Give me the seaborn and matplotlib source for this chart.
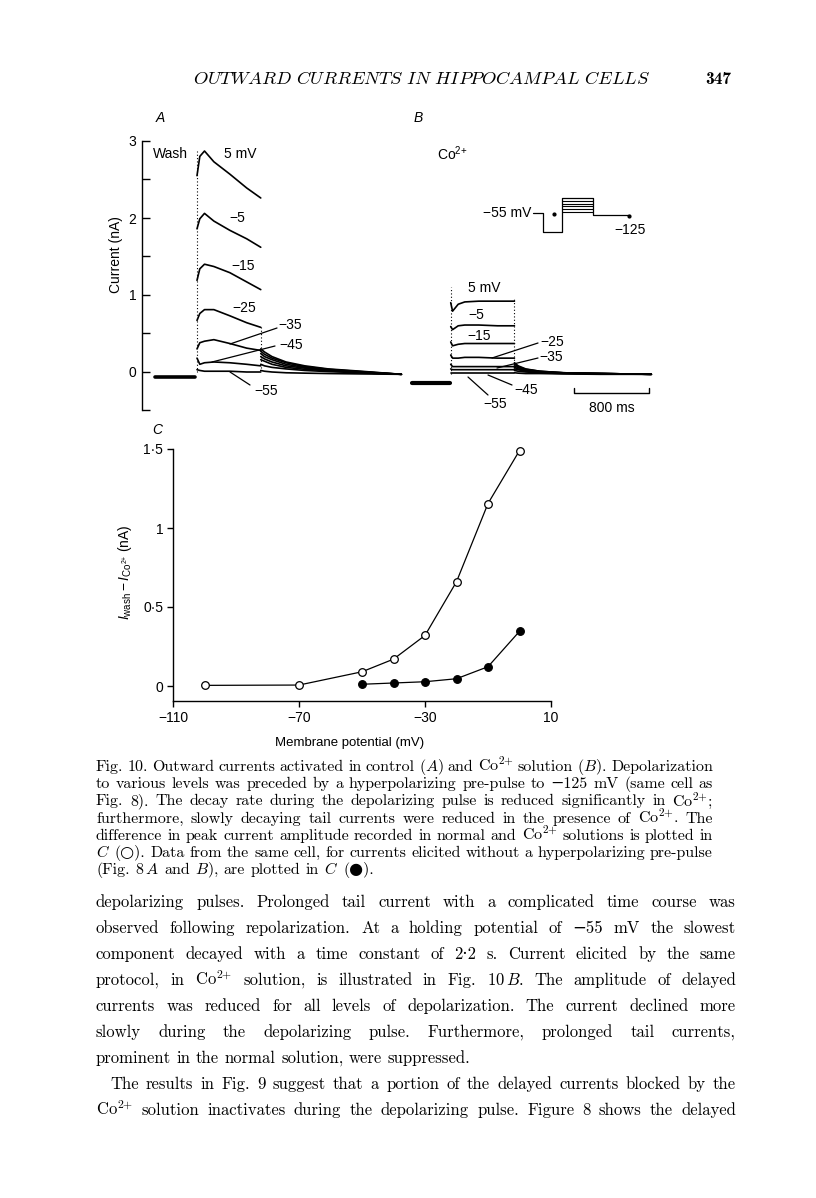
import numpy as np
import pandas as pd
import matplotlib
matplotlib.use("Agg")
import matplotlib.pyplot as plt
import seaborn as sns
from matplotlib.lines import Line2D
from matplotlib.ticker import FixedLocator, FixedFormatter, NullFormatter

# ---------------- data ----------------
# Panel A (wash): pulse traces, time in ms, current in nA
a_levels = ["5 mV", "-5", "-15", "-25", "-35", "-45", "-55"]
a_pulse_t = [0, 30, 80, 180, 350, 530, 680]
a_p5 = [2.55, 2.80, 2.87, 2.73, 2.57, 2.39, 2.26]
a_m5 = [1.86, 1.99, 2.06, 1.96, 1.84, 1.73, 1.62]
a_m15 = [1.19, 1.34, 1.40, 1.37, 1.29, 1.17, 1.07]
a_m25 = [0.67, 0.76, 0.81, 0.81, 0.73, 0.64, 0.58]
a_m35 = [0.30, 0.38, 0.40, 0.42, 0.37, 0.31, 0.28]
a_m45 = [0.18, 0.10, 0.12, 0.13, 0.12, 0.10, 0.08]
a_m55 = [0.03, 0.02, 0.01, 0.01, 0.01, 0.00, 0.00]
a_tail_t = [680, 720, 800, 950, 1150, 1400, 1750, 2180]
a_tail_p5 = [0.30, 0.26, 0.20, 0.13, 0.08, 0.04, 0.01, -0.03]
a_tail_m5 = [0.27, 0.23, 0.18, 0.12, 0.07, 0.035, 0.005, -0.03]
a_tail_m15 = [0.24, 0.20, 0.16, 0.10, 0.06, 0.03, 0.0, -0.03]
a_tail_m25 = [0.20, 0.17, 0.13, 0.08, 0.05, 0.02, 0.0, -0.03]
a_tail_m35 = [0.16, 0.14, 0.10, 0.06, 0.035, 0.015, -0.01, -0.03]
a_tail_m45 = [0.10, 0.08, 0.06, 0.04, 0.02, 0.005, -0.01, -0.03]
a_tail_m55 = [0.02, 0.01, 0.0, -0.01, -0.015, -0.02, -0.025, -0.03]
a_pre_t = [-450, -20]
a_pre_i = [-0.065, -0.065]

# Panel B (Co2+)
b_pulse_t = [0, 20, 80, 150, 300, 500, 680]
b_p5 = [0.90, 0.79, 0.88, 0.91, 0.92, 0.92, 0.92]
b_m5 = [0.59, 0.55, 0.60, 0.61, 0.61, 0.60, 0.60]
b_m15 = [0.39, 0.34, 0.36, 0.37, 0.37, 0.37, 0.37]
b_m25 = [0.22, 0.18, 0.18, 0.19, 0.19, 0.18, 0.18]
b_m35 = [0.10, 0.07, 0.07, 0.07, 0.07, 0.07, 0.07]
b_m45 = [0.04, 0.03, 0.03, 0.03, 0.03, 0.03, 0.03]
b_m55 = [-0.01, -0.01, -0.01, -0.01, -0.01, -0.01, -0.01]
b_tail_t = [680, 720, 800, 950, 1200, 1600, 2140]
b_tail_p5 = [0.12, 0.08, 0.04, 0.01, -0.01, -0.02, -0.03]
b_tail_m5 = [0.10, 0.07, 0.035, 0.01, -0.01, -0.02, -0.03]
b_tail_m15 = [0.08, 0.055, 0.03, 0.005, -0.01, -0.02, -0.03]
b_tail_m25 = [0.06, 0.04, 0.02, 0.0, -0.015, -0.02, -0.03]
b_tail_m35 = [0.04, 0.03, 0.01, -0.005, -0.015, -0.02, -0.03]
b_tail_m45 = [0.02, 0.01, 0.0, -0.01, -0.02, -0.025, -0.03]
b_tail_m55 = [-0.01, -0.015, -0.02, -0.02, -0.025, -0.03, -0.03]
b_pre_t = [-415, -10]
b_pre_i = [-0.147, -0.147]

# Panel C
c_v_open = [-100, -70, -50, -40, -30, -20, -10, 0]
c_i_open = [0.004, 0.006, 0.09, 0.17, 0.32, 0.66, 1.155, 1.49]
c_v_filled = [-50, -40, -30, -20, -10, 0]
c_i_filled = [0.011, 0.019, 0.027, 0.046, 0.122, 0.346]
c_yticks = [0, 0.5, 1, 1.5]
c_ylabels = ["0", "0·5", "1", "1·5"]
c_xticks = [-110, -70, -30, 10]
c_xlabels = ["−110", "−70", "−30", "10"]
a_yticks = [0, 1, 2, 3]
a_yminor = [-0.5, 0.5, 1.5, 2.5]

# ---------------- style ----------------
sns.set_theme(style="white")
plt.rcParams["font.family"] = ["Liberation Sans", "DejaVu Sans"]
plt.rcParams["mathtext.fontset"] = "custom"
plt.rcParams["mathtext.rm"] = "Liberation Sans"
plt.rcParams["mathtext.it"] = "Liberation Sans:italic"
plt.rcParams["mathtext.bf"] = "Liberation Sans:bold"
plt.rcParams["text.color"] = "black"

W, H = 816, 1198
fig = plt.figure(figsize=(W / 100, H / 100), dpi=100)
fig.patch.set_facecolor("white")


def add_ax(left, right, top, bottom):
    return fig.add_axes([left / W, 1 - bottom / H, (right - left) / W, (bottom - top) / H])


def ftext(px, py, s, **kw):
    kw.setdefault("color", "black")
    return fig.text(px / W, 1 - py / H, s, **kw)


def fline(xs, ys, **kw):
    kw.setdefault("color", "black")
    kw.setdefault("lw", 0.9)
    fig.add_artist(Line2D([x / W for x in xs], [1 - y / H for y in ys],
                          transform=fig.transFigure, **kw))


LBL = 10
TR_LW = 1.2

# ---------------- panel A ----------------
axA = add_ax(142, 405, 130, 415)
axA.set_xlim((142 - 197) * 800 / 75, (405 - 197) * 800 / 75)
axA.set_ylim((372 - 415) / 77, (372 - 130) / 77)
axA.patch.set_alpha(0)
a_pulses = [a_p5, a_m5, a_m15, a_m25, a_m35, a_m45, a_m55]
a_tails = [a_tail_p5, a_tail_m5, a_tail_m15, a_tail_m25, a_tail_m35, a_tail_m45, a_tail_m55]
for p, tl in zip(a_pulses, a_tails):
    sns.lineplot(x=a_pulse_t, y=p, ax=axA, color="black", lw=TR_LW, estimator=None, sort=False)
    sns.lineplot(x=a_tail_t, y=tl, ax=axA, color="black", lw=TR_LW, estimator=None, sort=False)
sns.lineplot(x=a_pre_t, y=a_pre_i, ax=axA, color="black", lw=2.6, estimator=None, sort=False)
axA.plot([0, 0], [0.0, a_p5[2]], ls=(0, (1, 2)), color="black", lw=0.8)
axA.plot([a_pulse_t[-1]] * 2, [0.05, a_m25[-1]], ls=(0, (1, 2)), color="black", lw=0.8)
for s in ["top", "right", "bottom"]:
    axA.spines[s].set_visible(False)
axA.spines["left"].set_bounds(-0.5, 3)
axA.spines["left"].set_color("black")
axA.spines["left"].set_linewidth(1.0)
axA.yaxis.set_major_locator(FixedLocator(a_yticks))
axA.yaxis.set_minor_locator(FixedLocator(a_yminor))
axA.yaxis.set_major_formatter(FixedFormatter([str(v) for v in a_yticks]))
axA.yaxis.set_minor_formatter(NullFormatter())
axA.tick_params(axis="y", which="both", direction="in", length=5.5, width=1.0,
                colors="black", labelsize=LBL, pad=4, left=True)
axA.set_xticks([])
axA.set_ylabel("")
axA.set_xlabel("")

# ---------------- panel B ----------------
axB = add_ax(405, 665, 130, 415)
axB.set_xlim((405 - 450.7) * 800 / 75, (665 - 450.7) * 800 / 75)
axB.set_ylim((372 - 415) / 77, (372 - 130) / 77)
axB.patch.set_alpha(0)
b_pulses = [b_p5, b_m5, b_m15, b_m25, b_m35, b_m45, b_m55]
b_tails = [b_tail_p5, b_tail_m5, b_tail_m15, b_tail_m25, b_tail_m35, b_tail_m45, b_tail_m55]
for p, tl in zip(b_pulses, b_tails):
    sns.lineplot(x=b_pulse_t, y=p, ax=axB, color="black", lw=TR_LW, estimator=None, sort=False)
    sns.lineplot(x=b_tail_t, y=tl, ax=axB, color="black", lw=TR_LW, estimator=None, sort=False)
sns.lineplot(x=b_pre_t, y=b_pre_i, ax=axB, color="black", lw=3.0, estimator=None, sort=False)
axB.plot([0, 0], [-0.02, 1.1], ls=(0, (1, 2)), color="black", lw=0.8)
axB.plot([b_pulse_t[-1]] * 2, [0.07, 0.95], ls=(0, (1, 2)), color="black", lw=0.8)
# 800 ms scale bar
axB.plot([1315, 1315, 2115, 2115], [-0.21, -0.27, -0.27, -0.21], color="black", lw=1.0)
axB.axis("off")

# ---------------- panel C ----------------
axC = add_ax(173, 551, 440, 701)
axC.set_xlim(-110, 10)
axC.set_ylim((686 - 701) / 158, (686 - 440) / 158)
axC.patch.set_alpha(0)
sns.lineplot(x=c_v_open, y=c_i_open, ax=axC, color="black", lw=0.9, marker="o",
             markersize=5.5, markerfacecolor="white", markeredgecolor="black",
             markeredgewidth=0.9, estimator=None, sort=False, clip_on=False)
sns.lineplot(x=c_v_filled, y=c_i_filled, ax=axC, color="black", lw=0.9, marker="o",
             markersize=5.5, markerfacecolor="black", markeredgecolor="black",
             markeredgewidth=0.9, estimator=None, sort=False, clip_on=False)
for s in ["top", "right"]:
    axC.spines[s].set_visible(False)
for s in ["left", "bottom"]:
    axC.spines[s].set_color("black")
    axC.spines[s].set_linewidth(1.0)
axC.spines["left"].set_bounds((686 - 701) / 158, 1.5)
axC.set_yticks(c_yticks)
axC.set_yticklabels(c_ylabels)
axC.set_xticks(c_xticks)
axC.set_xticklabels(c_xlabels)
axC.tick_params(axis="both", direction="out", length=4, width=1.0, colors="black",
                labelsize=LBL, pad=3, left=True, bottom=True)
axC.set_xlabel("")
axC.set_ylabel("")

# ---------------- figure labels ----------------
ftext(160, 118, "A", fontsize=LBL, style="italic", ha="center", va="center")
ftext(418, 118, "B", fontsize=LBL, style="italic", ha="center", va="center")
ftext(157, 430, "C", fontsize=LBL, style="italic", ha="center", va="center")
ftext(116, 255, "Current (nA)", fontsize=LBL, rotation=90, ha="center", va="center")
ftext(170, 154, "Wash", fontsize=LBL, ha="center", va="center")
ftext(452, 154, "Co$^{2{+}}$", fontsize=LBL, ha="center", va="center")

for (x, y, s) in [(240, 154, "5 mV"), (237, 218, "−5"), (243, 266, "−15"), (244, 308, "−25"),
                  (290, 325, "−35"), (291, 345, "−45"), (266, 391, "−55")]:
    ftext(x, y, s, fontsize=LBL, ha="center", va="center")
fline([277, 230], [328, 344])
fline([275, 212], [346, 362])
fline([250, 230], [385, 372])

for (x, y, s) in [(484, 288, "5 mV"), (476, 315, "−5"), (479, 336, "−15"), (552, 342, "−25"),
                  (551, 357, "−35"), (526, 390, "−45"), (495, 404, "−55")]:
    ftext(x, y, s, fontsize=LBL, ha="center", va="center")
fline([538, 492], [343, 358])
fline([538, 497], [358, 368])
fline([512, 488], [385, 375])
fline([488, 468], [395, 377])
ftext(612, 408, "800 ms", fontsize=LBL, ha="center", va="center")

# voltage protocol inset
ftext(531, 213, "−55 mV", fontsize=LBL, ha="right", va="center")
fline([533, 543, 543, 562, 562, 593, 593, 630], [213, 213, 232, 232, 198, 198, 215, 215])
for yy in [201, 203.7, 206.3, 209, 211.7]:
    fline([562, 593], [yy, yy], lw=0.8)
fig.add_artist(Line2D([554 / W], [1 - 214 / H], marker="o", markersize=2, color="black",
                      transform=fig.transFigure))
fig.add_artist(Line2D([629 / W], [1 - 216 / H], marker="o", markersize=2, color="black",
                      transform=fig.transFigure))
ftext(630, 230, "−125", fontsize=LBL, ha="center", va="center")

# panel C labels
ftext(350, 743, "Membrane potential (mV)", fontsize=LBL - 0.5, ha="center", va="center")
ftext(125, 572, r"$I_{\mathrm{wash}}-I_{\mathrm{Co^{2{+}}}}$ (nA)", fontsize=LBL,
      rotation=90, ha="center", va="center")

# ---------------- page text ----------------
SERIF = ["cmr10", "DejaVu Serif", "DejaVu Sans"]
ftext(422, 80, r"$\mathit{OUTWARD\ CURRENTS\ IN\ HIPPOCAMPAL\ CELLS}$", fontsize=13.3,
      ha="center", va="center", math_fontfamily="cm")
ftext(718, 80, "347", fontsize=12.5, family=["cmb10", "DejaVu Serif"], ha="center", va="center")

CO = "Co$^{2{+}}$"
caption = [
    f"Fig. 10. Outward currents activated in control ($A$) and {CO} solution ($B$). Depolarization",
    "to various levels was preceded by a hyperpolarizing pre-pulse to −125 mV (same cell as",
    f"Fig. 8). The decay rate during the depolarizing pulse is reduced significantly in {CO};",
    f"furthermore, slowly decaying tail currents were reduced in the presence of {CO}. The",
    f"difference in peak current amplitude recorded in normal and {CO} solutions is plotted in",
    "$C$ (○). Data from the same cell, for currents elicited without a hyperpolarizing pre-pulse",
    "(Fig. 8$\\,A$ and $B$), are plotted in $C$ (●).",
]
body = [
    "depolarizing pulses. Prolonged tail current with a complicated time course was",
    "observed following repolarization. At a holding potential of −55 mV the slowest",
    "component decayed with a time constant of 2·2 s. Current elicited by the same",
    f"protocol, in {CO} solution, is illustrated in Fig. 10$\\,B$. The amplitude of delayed",
    "currents was reduced for all levels of depolarization. The current declined more",
    "slowly during the depolarizing pulse. Furthermore, prolonged tail currents,",
    "prominent in the normal solution, were suppressed.",
    "The results in Fig. 9 suggest that a portion of the delayed currents blocked by the",
    f"{CO} solution inactivates during the depolarizing pulse. Figure 8 shows the delayed",
]


def justify_block(lines, x0, x1, y0, dy, size, ragged, indents):
    r = fig.canvas.get_renderer()
    for i, line in enumerate(lines):
        words = line.split()
        ts = [fig.text(0, 0, w, fontsize=size, family=SERIF, math_fontfamily="cm",
                       va="baseline", ha="left", color="black") for w in words]
        ws = [t.get_window_extent(r).width for t in ts]
        start = x0 + indents[i]
        if ragged[i] or len(words) == 1:
            gap = size * 100 / 72 * 0.33
        else:
            gap = (x1 - start - sum(ws)) / (len(words) - 1)
        x = start
        yb = y0 + i * dy
        for t, w in zip(ts, ws):
            t.set_position((x / W, 1 - yb / H))
            x += w + gap


justify_block(caption, 96, 713, 771, 17.2, 11.5,
              [False] * 6 + [True], [0] * 7)
justify_block(body, 96, 736, 907, 26.0, 12.0,
              [False] * 6 + [True] + [False, False], [0] * 7 + [14, 0])

fig.savefig("out.png", dpi=100, facecolor="white")
